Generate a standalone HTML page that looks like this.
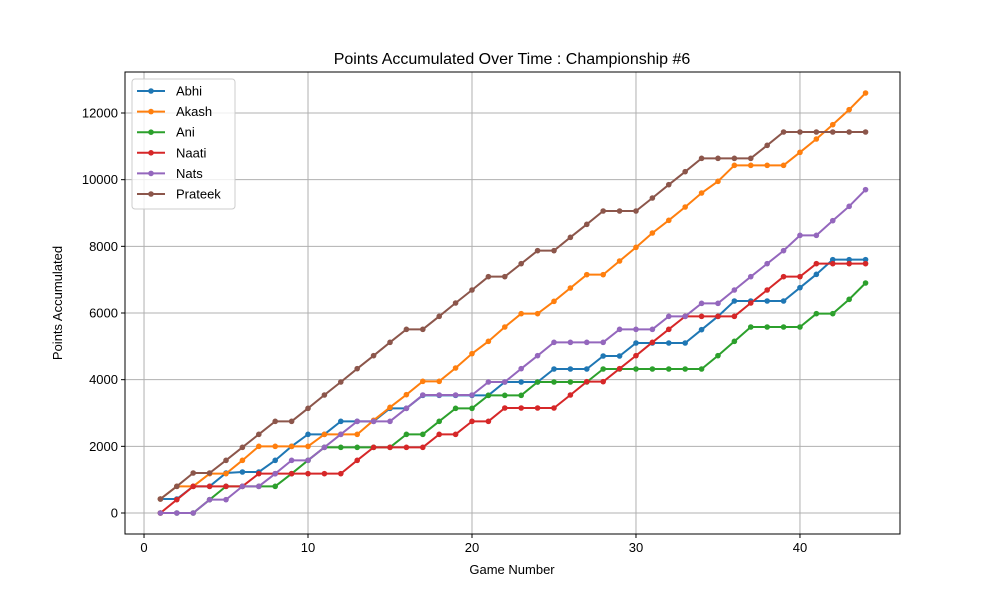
<!DOCTYPE html>
<html><head><meta charset="utf-8"><style>
body{margin:0;background:#fff;font-family:"Liberation Sans","DejaVu Sans",sans-serif}
</style></head><body>
<svg id="chart" width="1000" height="600" xmlns="http://www.w3.org/2000/svg">
<rect width="1000" height="600" fill="#fff"/>
<g id="grid"></g>
<g id="series"></g>
<rect x="125" y="72" width="775" height="462" fill="none" stroke="#000" stroke-width="1"/>
<g id="ticks" font-size="13" fill="#000"></g>
<text x="512" y="64" text-anchor="middle" font-size="16">Points Accumulated Over Time : Championship #6</text>
<text x="512" y="574" text-anchor="middle" font-size="13">Game Number</text>
<text x="62" y="303" text-anchor="middle" font-size="13" transform="rotate(-90 62 303)">Points Accumulated</text>
<g id="legend"></g>
</svg>
<script>
const seriesNames=["Abhi","Akash","Ani","Naati","Nats","Prateek"];
const colors=["#1f77b4","#ff7f0e","#2ca02c","#d62728","#9467bd","#8c564b"];
const xTicks=[0,10,20,30,40];
const yTicks=[0,2000,4000,6000,8000,10000,12000];
const abhi=[420,420,800,800,1200,1230,1230,1580,2000,2360,2360,2750,2750,2750,3140,3140,3530,3530,3530,3530,3530,3930,3930,3930,4320,4320,4320,4710,4710,5100,5100,5100,5100,5500,5900,6360,6360,6360,6360,6760,7160,7600,7600,7600];
const akash=[420,800,800,1180,1180,1580,2000,2000,2000,2000,2360,2360,2360,2780,3170,3550,3950,3950,4350,4780,5150,5580,5980,5980,6350,6750,7150,7150,7560,7970,8400,8780,9180,9600,9950,10430,10430,10430,10430,10820,11220,11650,12100,12600];
const ani=[0,0,0,400,800,800,800,800,1180,1580,1970,1970,1970,1970,1970,2360,2360,2750,3140,3140,3530,3530,3530,3930,3930,3930,3930,4320,4320,4320,4320,4320,4320,4320,4720,5150,5580,5580,5580,5580,5980,5980,6410,6900];
const naati=[0,400,800,800,800,800,1180,1180,1180,1180,1180,1180,1580,1970,1970,1970,1970,2360,2360,2750,2750,3150,3150,3150,3150,3540,3940,3940,4330,4720,5120,5510,5900,5900,5900,5900,6300,6690,7090,7090,7480,7480,7480,7480];
const nats=[0,0,0,400,400,800,800,1180,1580,1580,1970,2360,2750,2750,2750,3140,3540,3540,3540,3540,3930,3930,4330,4720,5120,5120,5120,5120,5510,5510,5510,5900,5900,6290,6290,6690,7090,7480,7870,8330,8330,8770,9200,9700];
const prateek=[420,800,1200,1200,1580,1970,2360,2750,2750,3140,3540,3930,4330,4720,5120,5510,5510,5900,6300,6690,7090,7090,7480,7870,7870,8270,8660,9060,9060,9060,9450,9850,10240,10640,10640,10640,10640,11030,11430,11430,11430,11430,11430,11430];
const allSeries=[abhi,akash,ani,naati,nats,prateek];
const NS="http://www.w3.org/2000/svg";
const L=125,R=900,T=72,B=534;
const X0=-1.16,X1=46.1,Y0=-630,Y1=13230;
const sx=v=>L+(v-X0)/(X1-X0)*(R-L);
const sy=v=>B-(v-Y0)/(Y1-Y0)*(B-T);
function mk(tag,attrs,parent){const e=document.createElementNS(NS,tag);for(const k in attrs)e.setAttribute(k,attrs[k]);parent.appendChild(e);return e;}
const grid=document.getElementById('grid'),ticks=document.getElementById('ticks');
xTicks.forEach(t=>{const x=sx(t);
 const g=mk('line',{x1:x,x2:x,y1:T,y2:B,stroke:'#b0b0b0','stroke-width':1},grid);
 
 
 mk('line',{x1:x,x2:x,y1:B,y2:B+4,stroke:'#000'},ticks);
 const tx=mk('text',{x:x,y:B+18,'text-anchor':'middle'},ticks);tx.textContent=t;
 
 
});
yTicks.forEach(t=>{const y=sy(t);
 const g=mk('line',{x1:L,x2:R,y1:y,y2:y,stroke:'#b0b0b0','stroke-width':1},grid);
 
 
 mk('line',{x1:L-4,x2:L,y1:y,y2:y,stroke:'#000'},ticks);
 const tx=mk('text',{x:L-7,y:y+4.5,'text-anchor':'end'},ticks);tx.textContent=t;
 
 
});
const sg=document.getElementById('series');
allSeries.forEach((s,i)=>{
 const g=mk('g',{},sg);
 
 
 const pts=s.map((v,j)=>sx(j+1)+','+sy(v)).join(' ');
 const pl=mk('polyline',{points:pts,fill:'none',stroke:colors[i],'stroke-width':2},g);
 
 
 s.forEach((v,j)=>{const c=mk('circle',{cx:sx(j+1),cy:sy(v),r:2.8,fill:colors[i]},g);
  
  });
});
const lg=document.getElementById('legend');
const box=mk('rect',{x:132,y:79,width:103,height:130,rx:3,fill:'#fff','fill-opacity':0.8,stroke:'#ccc'},lg);


seriesNames.forEach((n,i)=>{const y=91+i*20.6;
 const e=mk('g',{},lg);
 
 
 mk('line',{x1:137,x2:165,y1:y,y2:y,stroke:colors[i],'stroke-width':2},e);
 mk('circle',{cx:151,cy:y,r:2.8,fill:colors[i]},e);
 const t=mk('text',{x:176,y:y+4.5,'font-size':13},e);t.textContent=n;
});
</script>
</body></html>
